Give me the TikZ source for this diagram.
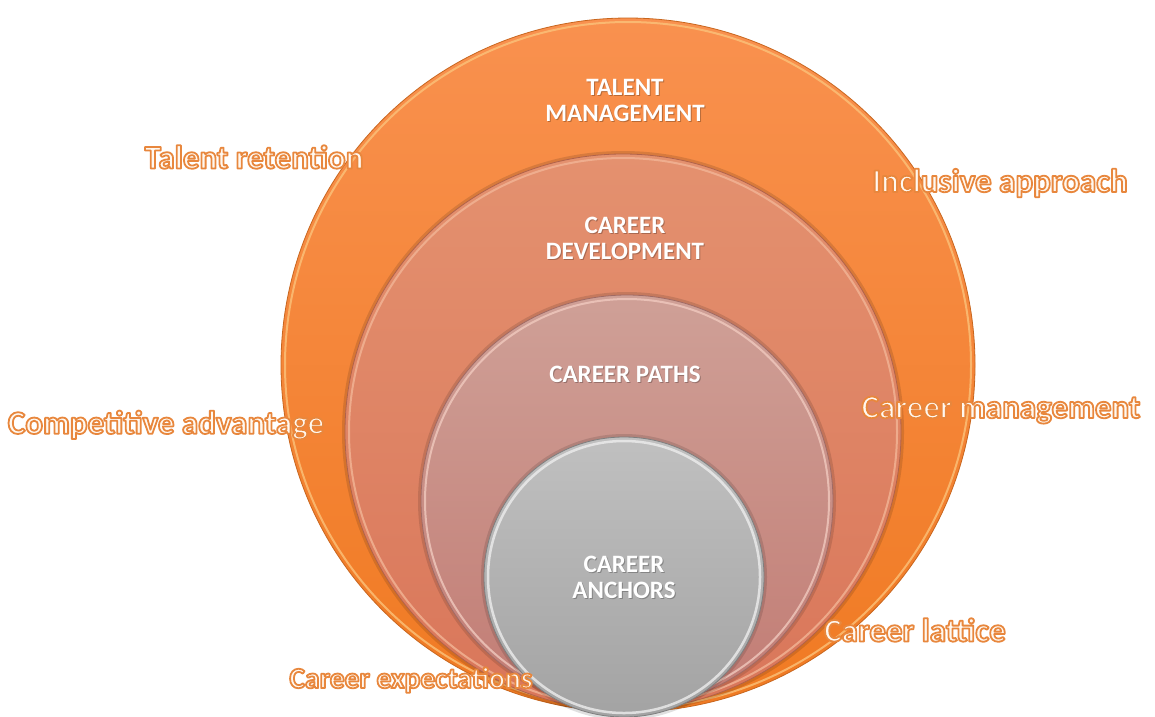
\documentclass[tikz,border=0pt]{standalone}
\usepackage{fontspec}
\setmainfont{Carlito}
\definecolor{orTop}{HTML}{F9914F}
\definecolor{orBot}{HTML}{F07A22}
\definecolor{orRim}{HTML}{FBC27A}
\definecolor{orEdge}{HTML}{C8661E}
\definecolor{devTop}{HTML}{E4916F}
\definecolor{devBot}{HTML}{D9765A}
\definecolor{devRim}{HTML}{F2B596}
\definecolor{devEdge}{HTML}{B0624A}
\definecolor{pathTop}{HTML}{CFA097}
\definecolor{pathBot}{HTML}{C27C74}
\definecolor{pathRim}{HTML}{F0C9BE}
\definecolor{pathEdge}{HTML}{A06A64}
\definecolor{ancTop}{HTML}{C0C0C0}
\definecolor{ancBot}{HTML}{A3A3A3}
\definecolor{ancRim}{HTML}{EDEDED}
\definecolor{ancEdge}{HTML}{7E7E7E}
\definecolor{fillc}{HTML}{FFF8F0}
% outlined text: fill + stroke (text render mode 2), orange stroke
\newcommand\outlined[1]{\special{pdf:literal direct 2 Tr 1.8 w 1 j 0.91 0.53 0.24 RG}#1\special{pdf:literal direct 0 Tr}}
\newcommand\inlabel[3]{%
  \node[inlab, text=black, opacity=0.25] at ([shift={(1pt,-1pt)}]#2) {#3};%
  \node[inlab] (#1) at (#2) {#3};%
}
\begin{document}
\begin{tikzpicture}[x=1pt,y=-1pt,
  disc/.style={circle, inner sep=0pt, minimum size=#1},
  rim/.style={line width=2pt, opacity=0.8},
  shade ring/.style={line width=3pt, black, opacity=0.12},
  inlab/.style={font=\bfseries\fontsize{25}{26}\selectfont, text=white, align=center},
  outlab/.style={font=\bfseries\fontsize{33}{37}\selectfont, inner sep=0pt, text=fillc}]
\fill[white] (0,0) rectangle (1155,716);
\useasboundingbox (0,0) rectangle (1155,716);
% circles
\node[disc=694pt, top color=orTop, bottom color=orBot, draw=orEdge, line width=0.8pt] (tm) at (628,365) {};
\draw[rim, orRim] (tm.center) circle (343pt);
\draw[shade ring] (623,432) circle (279.5pt);
\node[disc=556pt, top color=devTop, bottom color=devBot, draw=devEdge, line width=0.8pt] (cd) at (623,432) {};
\draw[rim, devRim] (cd.center) circle (274pt);
\draw[shade ring] (627,501) circle (207.5pt);
\node[disc=412pt, top color=pathTop, bottom color=pathBot, draw=pathEdge, line width=0.8pt] (cp) at (627,501) {};
\draw[rim, pathRim] (cp.center) circle (202pt);
\draw[shade ring] (624,577) circle (141.5pt);
\node[disc=280pt, top color=ancTop, bottom color=ancBot, draw=ancEdge, line width=0.8pt] (ca) at (624,577) {};
\draw[rim, ancRim, line width=2.5pt] (ca.center) circle (136pt);
% inner labels
\inlabel{ltm}{625,100}{TALENT\\MANAGEMENT}
\inlabel{lcd}{625,238}{CAREER\\DEVELOPMENT}
\inlabel{lcp}{625,374}{CAREER PATHS}
\inlabel{lca}{624,577}{CAREER\\ANCHORS}
% outer labels
\node[outlab] (o1) at (254,157) {\outlined{Talent retention}};
\node[outlab] (o2) at (1000,183) {\outlined{Inclusive approach}};
\node[outlab] (o3) at (166,425) {\outlined{Competitive advantage}};
\node[outlab] (o4) at (1001,410) {\outlined{Career management}};
\node[outlab] (o5) at (915,630) {\outlined{Career lattice}};
\node[outlab, font=\bfseries\fontsize{29.5}{34}\selectfont] (o6) at (411,680) {\outlined{Career expectations}};
\end{tikzpicture}
\end{document}
